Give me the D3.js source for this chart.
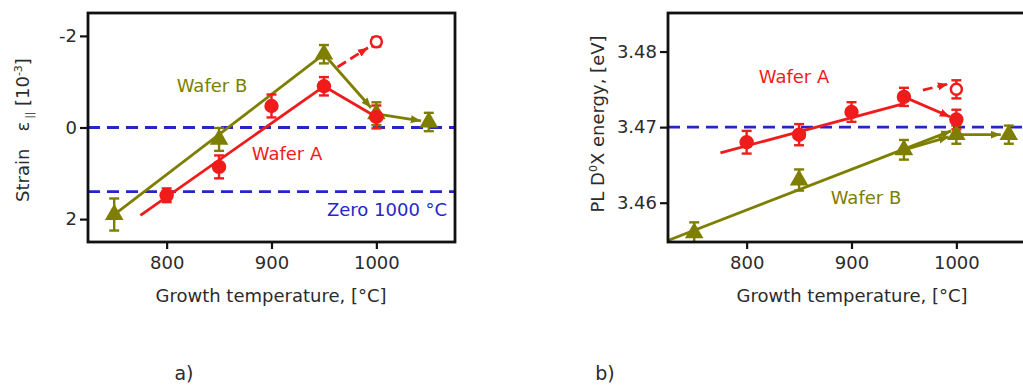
<!DOCTYPE html>
<html><head><meta charset="utf-8">
<script src="https://cdn.jsdelivr.net/npm/d3@7"></script>
<style>
html,body{margin:0;padding:0;background:#fff;}
text{font-family:"DejaVu Sans",Verdana,sans-serif;}
</style></head>
<body><svg id="chart" width="1023" height="385"></svg>
<script>
// ---------- data ----------
const xTicks = [800, 900, 1000];
const tempsA = [800, 850, 900, 950, 1000];
const tempsB = [750, 850, 950, 1000, 1050];

// panel a: strain
const strainTicks = [-2, 0, 2];
const strainTickLabels = ["-2", "0", "2"];
const strainA = [1.48, 0.86, -0.47, -0.9, -0.23];
const strainAErr = [0.15, 0.25, 0.25, 0.2, 0.25];
const strainB = [1.9, 0.26, -1.6, -0.3, -0.12];
const strainBErr = [0.35, 0.25, 0.2, 0.25, 0.2];
const strainAOpen = [1000, -1.87, 0.1];
const strainFitA = [[775, 1.92], [950, -0.9]];
const strainFitB = [[750, 1.9], [950, -1.6]];
const strainDashA = [[963, -1.32], [992, -1.74]];
const strainRefLines = [0, 1.4];

// panel b: PL D0X energy
const energyTicks = [3.46, 3.47, 3.48];
const energyTickLabels = ["3.46", "3.47", "3.48"];
const energyA = [3.468, 3.469, 3.472, 3.474, 3.471];
const energyAErr = [0.0015, 0.0014, 0.0013, 0.0012, 0.0013];
const energyB = [3.456, 3.463, 3.467, 3.469, 3.469];
const energyBErr = [0.0014, 0.0014, 0.0013, 0.0012, 0.0012];
const energyAOpen = [1000, 3.475, 0.0012];
const energyFitA = [[775, 3.4666], [950, 3.4731]];
const energyFitB = [[725, 3.455], [995, 3.4695]];
const energyDashA = [[968, 3.4749], [992, 3.4757]];
const energyRefLines = [3.47];

const RED = "#f01c1c", OLIVE = "#7e7e00", BLUE = "#2626c8", TXT = "#2b2b2b";

const svg = d3.select("#chart");
svg.append("rect").attr("width", 1023).attr("height", 385).attr("fill", "#fff");

const defs = svg.append("defs");
function arrowMarker(id, color) {
  defs.append("marker").attr("id", id).attr("viewBox", "0 0 10 10")
    .attr("refX", 10).attr("refY", 5).attr("markerWidth", 3.6).attr("markerHeight", 3.6)
    .attr("orient", "auto").attr("markerUnits", "strokeWidth")
    .append("path").attr("d", "M0,1 L10,5 L0,9 z").attr("fill", color);
}
arrowMarker("arrRed", RED);
arrowMarker("arrOlive", OLIVE);

function panel(cfg) {
  const x = d3.scaleLinear().domain([725, 1075]).range([cfg.left, cfg.right]);
  const y = d3.scaleLinear().domain(cfg.yDomain).range([cfg.bottom, cfg.top]);
  const g = svg.append("g");
  const clipId = "clip" + cfg.id;
  defs.append("clipPath").attr("id", clipId).append("rect")
    .attr("x", cfg.left).attr("y", cfg.top).attr("width", cfg.right - cfg.left).attr("height", cfg.bottom - cfg.top);
  const p = g.append("g").attr("clip-path", `url(#${clipId})`);

  // reference lines
  cfg.refLines.forEach(v => {
    p.append("line").attr("x1", cfg.left).attr("x2", cfg.right).attr("y1", y(v)).attr("y2", y(v))
      .attr("stroke", BLUE).attr("stroke-width", 2.8).attr("stroke-dasharray", "12,7");
  });

  function seg(pts, color, opts = {}) {
    let a = [x(pts[0][0]), y(pts[0][1])], b = [x(pts[1][0]), y(pts[1][1])];
    if (opts.shorten) {
      const dx = b[0] - a[0], dy = b[1] - a[1], L = Math.hypot(dx, dy);
      b = [b[0] - dx / L * opts.shorten, b[1] - dy / L * opts.shorten];
    }
    const el = p.append("path").attr("d", `M${a[0]},${a[1]}L${b[0]},${b[1]}`)
      .attr("stroke", color).attr("stroke-width", 2.8).attr("fill", "none");
    if (opts.dash) el.attr("stroke-dasharray", opts.dash);
    if (opts.arrow) el.attr("marker-end", `url(#${opts.arrow})`);
  }
  // lines
  seg(cfg.fitB, OLIVE, cfg.fitBArrow ? { arrow: "arrOlive" } : {});
  seg(cfg.fitA, RED);
  seg([[tempsB[2], cfg.valsB[2]], [tempsB[3], cfg.valsB[3]]], OLIVE, { arrow: "arrOlive", shorten: 8 });
  seg([[tempsB[3], cfg.valsB[3]], [tempsB[4], cfg.valsB[4]]], OLIVE, { arrow: "arrOlive", shorten: 8 });
  seg([[tempsA[3], cfg.valsA[3]], [tempsA[4], cfg.valsA[4]]], RED, cfg.redArrow ? { arrow: "arrRed", shorten: 7 } : {});
  seg(cfg.dashA, RED, { dash: "10,5", arrow: "arrRed" });

  // error bars
  function errbars(ts, vs, es, color) {
    ts.forEach((t, i) => {
      const cx = x(t), y1 = y(vs[i] - es[i]), y2 = y(vs[i] + es[i]);
      p.append("line").attr("x1", cx).attr("x2", cx).attr("y1", y1).attr("y2", y2).attr("stroke", color).attr("stroke-width", 2.4);
      [y1, y2].forEach(yy => p.append("line").attr("x1", cx - 5).attr("x2", cx + 5).attr("y1", yy).attr("y2", yy)
        .attr("stroke", color).attr("stroke-width", 2.4));
    });
  }
  errbars(tempsB, cfg.valsB, cfg.errB, OLIVE);
  errbars(tempsA, cfg.valsA, cfg.errA, RED);
  errbars([cfg.openA[0]], [cfg.openA[1]], [cfg.openA[2]], RED);

  // markers
  const tri = d3.symbol().type(d3.symbolTriangle).size(150);
  tempsB.forEach((t, i) => p.append("path").attr("d", tri)
    .attr("transform", `translate(${x(t)},${y(cfg.valsB[i])})`).attr("fill", OLIVE));
  tempsA.forEach((t, i) => p.append("circle").attr("cx", x(t)).attr("cy", y(cfg.valsA[i])).attr("r", 7.2).attr("fill", RED));
  p.append("circle").attr("cx", x(cfg.openA[0])).attr("cy", y(cfg.openA[1])).attr("r", 5.5)
    .attr("fill", "#fff").attr("stroke", RED).attr("stroke-width", 2.5);

  // axes
  const ax = d3.axisBottom(x).tickValues(xTicks).tickSize(7).tickPadding(7).tickFormat(d3.format("d"));
  const gx = g.append("g").attr("transform", `translate(0,${cfg.bottom})`).call(ax);
  const ay = d3.axisLeft(y).tickValues(cfg.yTicks).tickSize(8).tickPadding(3)
    .tickFormat((d, i) => cfg.yTickLabels[i]);
  const gy = g.append("g").attr("transform", `translate(${cfg.left},0)`).call(ay);
  [gx, gy].forEach(a => {
    a.select(".domain").remove();
    a.selectAll(".tick line").attr("stroke", "#111").attr("stroke-width", 2.2);
    a.selectAll(".tick text").attr("fill", TXT).style("font-size", "18px");
  });
  // frame
  g.append("rect").attr("x", cfg.left).attr("y", cfg.top).attr("width", cfg.right - cfg.left)
    .attr("height", cfg.bottom - cfg.top).attr("fill", "none").attr("stroke", "#111").attr("stroke-width", 2.8);

  // axis titles
  g.append("text").attr("x", cfg.xTitleX).attr("y", 302)
    .attr("text-anchor", "middle").attr("fill", TXT).style("font-size", "18px").text("Growth temperature, [°C]");
  const yt = g.append("text").attr("transform", `translate(${cfg.yTitleX},${cfg.yTitleY}) rotate(-90)`)
    .attr("text-anchor", "middle").attr("fill", TXT).style("font-size", "18px");
  cfg.yTitle(yt);

  // labels
  cfg.labels.forEach(l => g.append("text").attr("x", l[0]).attr("y", l[1]).attr("text-anchor", "middle")
    .attr("fill", l[3]).style("font-size", "18px").text(l[2]));
}

panel({
  id: "a", left: 88, right: 455, top: 13, bottom: 242, xTitleX: 271,
  yDomain: [2.5, -2.5], yTicks: strainTicks, yTickLabels: strainTickLabels,
  valsA: strainA, errA: strainAErr, valsB: strainB, errB: strainBErr, openA: strainAOpen,
  fitA: strainFitA, fitB: strainFitB, fitBArrow: false, redArrow: false, dashA: strainDashA, refLines: strainRefLines,
  yTitleX: 29, yTitleY: 130,
  yTitle: t => {
    t.append("tspan").text("Strain\u00a0\u00a0\u00a0ε");
    t.append("tspan").attr("dy", 4).style("font-size", "10px").text("\u00a0||");
    t.append("tspan").attr("dy", -4).text("\u00a0[10");
    t.append("tspan").attr("dy", -7).style("font-size", "11px").text("-3");
    t.append("tspan").attr("dy", 7).text("]");
  },
  labels: [[212, 92, "Wafer B", OLIVE], [287, 160, "Wafer A", RED], [387, 216, "Zero 1000 °C", BLUE]]
});

panel({
  id: "b", left: 668, right: 1035, top: 13, bottom: 242, xTitleX: 852,
  yDomain: [3.4548, 3.4851], yTicks: energyTicks, yTickLabels: energyTickLabels,
  valsA: energyA, errA: energyAErr, valsB: energyB, errB: energyBErr, openA: energyAOpen,
  fitA: energyFitA, fitB: energyFitB, fitBArrow: true, redArrow: true, dashA: energyDashA, refLines: energyRefLines,
  yTitleX: 604, yTitleY: 124,
  yTitle: t => {
    t.append("tspan").text("PL D");
    t.append("tspan").attr("dy", -7).style("font-size", "11px").text("0");
    t.append("tspan").attr("dy", 7).text("X energy, [eV]");
  },
  labels: [[794, 83, "Wafer A", RED], [866, 204, "Wafer B", OLIVE]]
});

// panel captions
svg.append("text").attr("x", 184).attr("y", 380).attr("text-anchor", "middle").attr("fill", TXT)
  .style("font-size", "19px").text("a)");
svg.append("text").attr("x", 605).attr("y", 380).attr("text-anchor", "middle").attr("fill", TXT)
  .style("font-size", "19px").text("b)");
</script></body></html>
